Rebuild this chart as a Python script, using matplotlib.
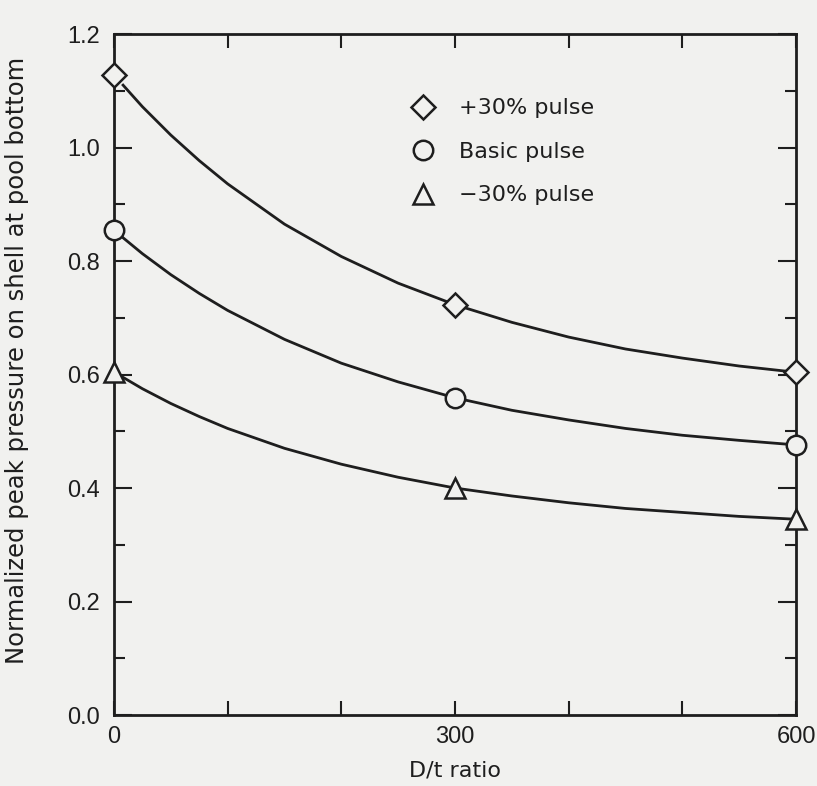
import matplotlib
matplotlib.use("Agg")
import matplotlib.pyplot as plt
from matplotlib.ticker import MultipleLocator, FixedLocator

# measured points (D/t ratio vs normalized peak pressure)
dt_pts = [0, 300, 600]
plus30_pts = [1.128, 0.723, 0.604]
basic_pts = [0.855, 0.559, 0.476]
minus30_pts = [0.604, 0.400, 0.345]

# points
curve_x = [8, 25, 50, 75, 100, 150, 200, 250, 300, 350, 400, 450, 500, 550, 600]
plus30_curve = [1.110, 1.072, 1.022, 0.977, 0.936, 0.865, 0.808, 0.761, 0.723,
                0.692, 0.666, 0.645, 0.629, 0.615, 0.604]
basic_curve = [0.841, 0.813, 0.776, 0.743, 0.713, 0.662, 0.620, 0.587, 0.559,
               0.537, 0.520, 0.505, 0.493, 0.484, 0.476]
minus30_curve = [0.595, 0.575, 0.549, 0.526, 0.505, 0.470, 0.442, 0.419, 0.400,
                 0.386, 0.374, 0.364, 0.357, 0.350, 0.345]

labels = ["+30% pulse", "Basic pulse", "\u221230% pulse"]
xticks = [0, 300, 600]
yticks = [0.0, 0.2, 0.4, 0.6, 0.8, 1.0, 1.2]

ink = "#1e1e1e"
bg = "#f1f1ef"
plt.rcParams['font.family'] = ['Liberation Sans', 'DejaVu Sans']

fig = plt.figure(figsize=(8.17, 7.86), dpi=100, facecolor=bg)
ax = fig.add_axes([0.1395, 0.0903, 0.8348, 0.8664], facecolor=bg)

for ys in [plus30_curve, basic_curve, minus30_curve]:
    ax.plot(curve_x, ys, color=ink, lw=2.0, zorder=2)

mk = dict(ls="none", mfc=bg, mec=ink, mew=1.8, clip_on=False, zorder=3)
h1, = ax.plot(dt_pts, plus30_pts, marker="D", ms=12, **mk)
h2, = ax.plot(dt_pts, basic_pts, marker="o", ms=14, **mk)
h3, = ax.plot(dt_pts, minus30_pts, marker="^", ms=14, **mk)

leg = ax.legend([h1, h2, h3], labels, loc="upper left",
                bbox_to_anchor=(0.407, 0.935), frameon=False,
                prop={"family": "DejaVu Sans", "size": 16},
                labelspacing=1.06, handlelength=1.0, handletextpad=1.15,
                labelcolor=ink)

ax.set_xlim(0, 600)
ax.set_ylim(0, 1.2)
ax.xaxis.set_major_locator(FixedLocator(xticks))
ax.xaxis.set_minor_locator(MultipleLocator(100))
ax.yaxis.set_major_locator(FixedLocator(yticks))
ax.yaxis.set_minor_locator(MultipleLocator(0.1))
ax.set_yticklabels([f"{v:.1f}" for v in yticks])
ax.tick_params(which="both", direction="in", top=True, right=True,
               color=ink, width=1.5, labelcolor=ink, labelsize=17)
ax.tick_params(axis="x", which="both", length=10, pad=8)
ax.tick_params(axis="y", which="major", length=13, pad=10)
ax.tick_params(axis="y", which="minor", length=8)
ax.tick_params(right=True, labelright=False)
for s in ax.spines.values():
    s.set_color(ink)
    s.set_linewidth(2)

ax.set_xlabel("D/t ratio", fontsize=16, color=ink, labelpad=9,
              family="DejaVu Sans")
ax.set_ylabel("Normalized peak pressure on shell at pool bottom", fontsize=17.5,
              color=ink, family="DejaVu Sans")
ax.yaxis.set_label_coords(-0.125, 0.52)

fig.savefig("out.png", dpi=100, facecolor=bg)
